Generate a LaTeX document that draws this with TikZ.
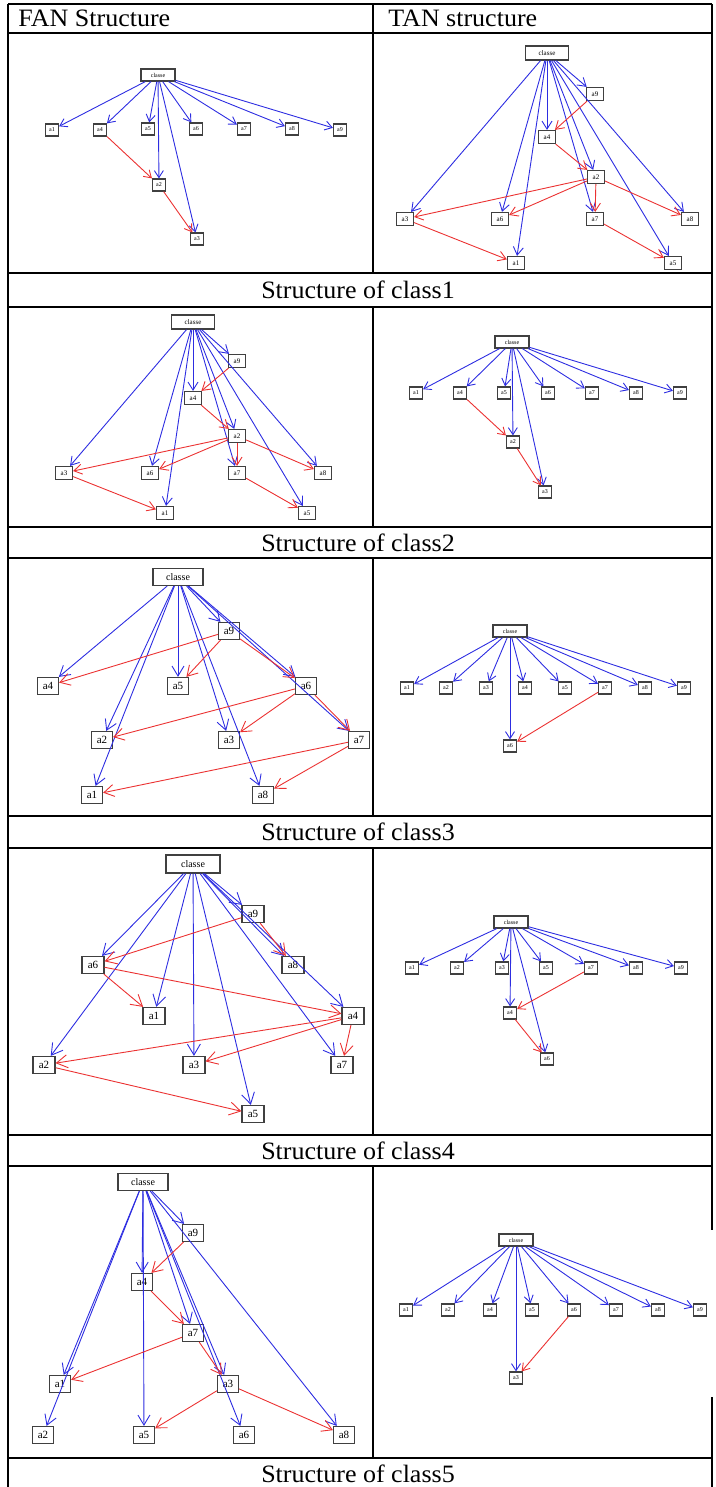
\documentclass[tikz,border=0pt]{standalone}
\usepackage{fontspec}
\setmainfont{Liberation Serif}
\usetikzlibrary{arrows.meta}
\definecolor{cblue}{RGB}{45,45,225}
\definecolor{cred}{RGB}{235,50,50}
\tikzset{
  box/.style={draw=black!75,line width=0.6pt,fill=white,inner sep=0pt},
  attrS/.style={box,minimum width=6.5pt,minimum height=6pt,font=\fontsize{3}{3}\selectfont},
  clsS/.style={box,minimum width=17pt,minimum height=6pt,font=\fontsize{3}{3}\selectfont},
  attrM/.style={box,minimum width=8.5pt,minimum height=6.5pt,font=\fontsize{3.5}{3.5}\selectfont},
  clsM/.style={box,minimum width=21.5pt,minimum height=7pt,font=\fontsize{3.5}{3.5}\selectfont},
  attrL/.style={box,minimum width=10.5pt,minimum height=8.5pt,font=\fontsize{5.5}{5.5}\selectfont},
  clsL/.style={box,minimum width=25pt,minimum height=8.5pt,font=\fontsize{5}{5}\selectfont},
  cedge/.style={draw=cblue,line width=0.45pt,->},
  aedge/.style={draw=cred,line width=0.45pt,->},
  tabline/.style={line width=1pt},
  head/.style={font=\fontsize{12.5}{15}\selectfont,inner sep=0pt,xscale=1.04,transform shape},
}
\begin{document}
\begin{tikzpicture}[x=0.5pt,y=-0.5pt,>={Straight Barb[length=3.5pt,width=4.5pt]}]
	\useasboundingbox (0,0) rectangle (716,1487);

	% table
	\draw[tabline] (8,4) -- (712,4);
	\foreach \y in {33,273,307,527,558,816,848,1135,1166,1458}
		\draw[tabline] (8,\y) -- (712,\y);
	\draw[tabline] (8,4) -- (8,1487);
	\draw[tabline] (712,4) -- (712,1230);
	\draw[tabline] (712,1397) -- (712,1487);
	\draw[tabline] (373,4) -- (373,273);
	\draw[tabline] (373,307) -- (373,527);
	\draw[tabline] (373,558) -- (373,816);
	\draw[tabline] (373,848) -- (373,1135);
	\draw[tabline] (373,1166) -- (373,1458);

	\node[head,anchor=west] (hfan) at (18,18.5) {FAN Structure};
	\node[head,anchor=west] (htan) at (388,18.5) {TAN structure};
	\node[head] (lab1) at (358,290) {Structure of class1};
	\node[head] (lab2) at (358,542.5) {Structure of class2};
	\node[head] (lab3) at (358,832) {Structure of class3};
	\node[head] (lab4) at (358,1150.5) {Structure of class4};
	\node[head] (lab5) at (358,1474) {Structure of class5};

	% FAN class1
	\node[clsS] (f1c) at (158,75) {classe};
	\node[attrS] (f1a1) at (52,130) {a1};
	\node[attrS] (f1a4) at (100,130) {a4};
	\node[attrS] (f1a5) at (148,129) {a5};
	\node[attrS] (f1a6) at (196,129) {a6};
	\node[attrS] (f1a7) at (244,129) {a7};
	\node[attrS] (f1a8) at (292,129) {a8};
	\node[attrS] (f1a9) at (340,130) {a9};
	\node[attrS] (f1a2) at (159,185) {a2};
	\node[attrS] (f1a3) at (197,239) {a3};
	\foreach \t in {1,...,9} \draw[cedge] (f1c) -- (f1a\t);
	\draw[aedge] (f1a4) -- (f1a2);
	\draw[aedge] (f1a2) -- (f1a3);

	% TAN class1
	\begin{scope}[>={Straight Barb[length=4pt,width=5pt]}]
	\node[clsM] (t1c) at (547,53) {classe};
	\node[attrM] (t1a9) at (595,94) {a9};
	\node[attrM] (t1a4) at (547,137) {a4};
	\node[attrM] (t1a2) at (596,177) {a2};
	\node[attrM] (t1a3) at (405,219) {a3};
	\node[attrM] (t1a6) at (500,219) {a6};
	\node[attrM] (t1a7) at (595,219) {a7};
	\node[attrM] (t1a8) at (690,219) {a8};
	\node[attrM] (t1a1) at (516,263) {a1};
	\node[attrM] (t1a5) at (673,263) {a5};
	\foreach \t in {1,...,9} \draw[cedge] (t1c) -- (t1a\t);
	\draw[aedge] (t1a9) -- (t1a4);
	\draw[aedge] (t1a4) -- (t1a2);
	\draw[aedge] (t1a2) -- (t1a3);
	\draw[aedge] (t1a2) -- (t1a6);
	\draw[aedge] (t1a2) -- (t1a7);
	\draw[aedge] (t1a2) -- (t1a8);
	\draw[aedge] (t1a3) -- (t1a1);
	\draw[aedge] (t1a7) -- (t1a5);
	\end{scope}

	% FAN class2
	\begin{scope}[>={Straight Barb[length=4pt,width=5pt]}]
	\node[clsM] (f2c) at (193,322) {classe};
	\node[attrM] (f2a9) at (237,361) {a9};
	\node[attrM] (f2a4) at (193,398) {a4};
	\node[attrM] (f2a2) at (237,436) {a2};
	\node[attrM] (f2a3) at (64,473) {a3};
	\node[attrM] (f2a6) at (150,473) {a6};
	\node[attrM] (f2a7) at (237,473) {a7};
	\node[attrM] (f2a8) at (323,473) {a8};
	\node[attrM] (f2a1) at (165,513) {a1};
	\node[attrM] (f2a5) at (307,513) {a5};
	\foreach \t in {1,...,9} \draw[cedge] (f2c) -- (f2a\t);
	\draw[aedge] (f2a9) -- (f2a4);
	\draw[aedge] (f2a4) -- (f2a2);
	\draw[aedge] (f2a2) -- (f2a3);
	\draw[aedge] (f2a2) -- (f2a6);
	\draw[aedge] (f2a2) -- (f2a7);
	\draw[aedge] (f2a2) -- (f2a8);
	\draw[aedge] (f2a3) -- (f2a1);
	\draw[aedge] (f2a7) -- (f2a5);
	\end{scope}

	% TAN class2
	\node[clsS] (t2c) at (512,342) {classe};
	\node[attrS] (t2a1) at (416,393) {a1};
	\node[attrS] (t2a4) at (460,393) {a4};
	\node[attrS] (t2a5) at (504,393) {a5};
	\node[attrS] (t2a6) at (548,393) {a6};
	\node[attrS] (t2a7) at (592,393) {a7};
	\node[attrS] (t2a8) at (636,393) {a8};
	\node[attrS] (t2a9) at (680,393) {a9};
	\node[attrS] (t2a2) at (513,442) {a2};
	\node[attrS] (t2a3) at (545,492) {a3};
	\foreach \t in {1,...,9} \draw[cedge] (t2c) -- (t2a\t);
	\draw[aedge] (t2a4) -- (t2a2);
	\draw[aedge] (t2a2) -- (t2a3);

	% FAN class3
	\begin{scope}[>={Straight Barb[length=5pt,width=6pt]}]
	\node[clsL] (f3c) at (178,577) {classe};
	\node[attrL] (f3a9) at (229,631) {a9};
	\node[attrL] (f3a4) at (48,686) {a4};
	\node[attrL] (f3a5) at (178,686) {a5};
	\node[attrL] (f3a6) at (306,686) {a6};
	\node[attrL] (f3a2) at (102,740) {a2};
	\node[attrL] (f3a3) at (229,740) {a3};
	\node[attrL] (f3a7) at (359,740) {a7};
	\node[attrL] (f3a1) at (92,795) {a1};
	\node[attrL] (f3a8) at (263,795) {a8};
	\foreach \t in {1,...,9} \draw[cedge] (f3c) -- (f3a\t);
	\draw[aedge] (f3a9) -- (f3a4);
	\draw[aedge] (f3a9) -- (f3a5);
	\draw[aedge] (f3a9) -- (f3a6);
	\draw[aedge] (f3a6) -- (f3a2);
	\draw[aedge] (f3a6) -- (f3a3);
	\draw[aedge] (f3a6) -- (f3a7);
	\draw[aedge] (f3a7) -- (f3a1);
	\draw[aedge] (f3a7) -- (f3a8);
	\end{scope}

	% TAN class3
	\node[clsS] (t3c) at (510,631) {classe};
	\node[attrS] (t3a1) at (407,688) {a1};
	\node[attrS] (t3a2) at (446,688) {a2};
	\node[attrS] (t3a3) at (486,688) {a3};
	\node[attrS] (t3a4) at (525,688) {a4};
	\node[attrS] (t3a5) at (565,688) {a5};
	\node[attrS] (t3a7) at (605,688) {a7};
	\node[attrS] (t3a8) at (645,688) {a8};
	\node[attrS] (t3a9) at (684,688) {a9};
	\node[attrS] (t3a6) at (510,746) {a6};
	\foreach \t in {1,...,9} \draw[cedge] (t3c) -- (t3a\t);
	\draw[aedge] (t3a7) -- (t3a6);

	% FAN class4
	\begin{scope}[>={Straight Barb[length=5.5pt,width=6.5pt]}]
	\node[clsL,minimum width=27pt,minimum height=9pt] (f4c) at (193,864) {classe};
	\node[attrL,minimum width=11pt] (f4a9) at (253,914) {a9};
	\node[attrL,minimum width=11pt] (f4a6) at (93,965) {a6};
	\node[attrL,minimum width=11pt] (f4a8) at (293,965) {a8};
	\node[attrL,minimum width=11pt] (f4a1) at (154,1016) {a1};
	\node[attrL,minimum width=11pt] (f4a4) at (353,1016) {a4};
	\node[attrL,minimum width=11pt] (f4a2) at (44,1065) {a2};
	\node[attrL,minimum width=11pt] (f4a3) at (194,1065) {a3};
	\node[attrL,minimum width=11pt] (f4a7) at (342,1065) {a7};
	\node[attrL,minimum width=11pt] (f4a5) at (253,1114) {a5};
	\foreach \t in {1,...,9} \draw[cedge] (f4c) -- (f4a\t);
	\draw[aedge] (f4a9) -- (f4a6);
	\draw[aedge] (f4a9) -- (f4a8);
	\draw[aedge] (f4a6) -- (f4a1);
	\draw[aedge] (f4a6) -- (f4a4);
	\draw[aedge] (f4a4) -- (f4a2);
	\draw[aedge] (f4a4) -- (f4a3);
	\draw[aedge] (f4a4) -- (f4a7);
	\draw[aedge] (f4a2) -- (f4a5);
	\end{scope}

	% TAN class4
	\node[clsS] (t4c) at (511,922) {classe};
	\node[attrS] (t4a1) at (412,968) {a1};
	\node[attrS] (t4a2) at (457,968) {a2};
	\node[attrS] (t4a3) at (502,968) {a3};
	\node[attrS] (t4a5) at (546,968) {a5};
	\node[attrS] (t4a7) at (591,968) {a7};
	\node[attrS] (t4a8) at (636,968) {a8};
	\node[attrS] (t4a9) at (681,968) {a9};
	\node[attrS] (t4a4) at (510,1013) {a4};
	\node[attrS] (t4a6) at (547,1059) {a6};
	\foreach \t in {1,...,9} \draw[cedge] (t4c) -- (t4a\t);
	\draw[aedge] (t4a7) -- (t4a4);
	\draw[aedge] (t4a4) -- (t4a6);

	% FAN class5
	\begin{scope}[>={Straight Barb[length=5pt,width=6pt]}]
	\node[clsL] (f5c) at (143,1182) {classe};
	\node[attrL] (f5a9) at (193,1233) {a9};
	\node[attrL] (f5a4) at (142,1282) {a4};
	\node[attrL] (f5a7) at (193,1333) {a7};
	\node[attrL] (f5a1) at (60,1384) {a1};
	\node[attrL] (f5a3) at (228,1384) {a3};
	\node[attrL] (f5a2) at (43,1435) {a2};
	\node[attrL] (f5a5) at (144,1435) {a5};
	\node[attrL] (f5a6) at (244,1435) {a6};
	\node[attrL] (f5a8) at (344,1435) {a8};
	\foreach \t in {1,...,9} \draw[cedge] (f5c) -- (f5a\t);
	\draw[aedge] (f5a9) -- (f5a4);
	\draw[aedge] (f5a4) -- (f5a7);
	\draw[aedge] (f5a7) -- (f5a1);
	\draw[aedge] (f5a7) -- (f5a3);
	\draw[aedge] (f5a3) -- (f5a5);
	\draw[aedge] (f5a3) -- (f5a8);
	\end{scope}

	% TAN class5
	\node[clsS] (t5c) at (516,1240) {classe};
	\node[attrS] (t5a1) at (406,1310) {a1};
	\node[attrS] (t5a2) at (448,1310) {a2};
	\node[attrS] (t5a4) at (490,1310) {a4};
	\node[attrS] (t5a5) at (532,1310) {a5};
	\node[attrS] (t5a6) at (574,1310) {a6};
	\node[attrS] (t5a7) at (616,1310) {a7};
	\node[attrS] (t5a8) at (658,1310) {a8};
	\node[attrS] (t5a9) at (700,1310) {a9};
	\node[attrS] (t5a3) at (516,1378) {a3};
	\foreach \t in {1,...,9} \draw[cedge] (t5c) -- (t5a\t);
	\draw[aedge] (t5a6) -- (t5a3);

\end{tikzpicture}
\end{document}
